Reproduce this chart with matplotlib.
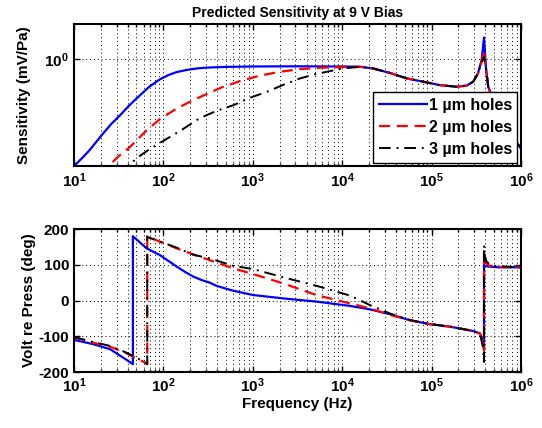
import matplotlib
matplotlib.use('Agg')
import matplotlib.pyplot as plt
from matplotlib.ticker import LogLocator, NullLocator, NullFormatter

plt.rcParams['font.family'] = ['Liberation Sans', 'DejaVu Sans']
plt.rcParams['font.weight'] = 'bold'
plt.rcParams['axes.labelweight'] = 'bold'
plt.rcParams['axes.titleweight'] = 'bold'
plt.rcParams['mathtext.fontset'] = 'custom'
plt.rcParams['mathtext.rm'] = 'Liberation Sans:bold'
plt.rcParams['mathtext.default'] = 'rm'

# magnitude (mV/Pa)
blue_mag_f = [10, 12.5, 15, 20.4, 26, 33, 41, 50, 60, 70, 92, 115, 140, 182, 240, 305, 500,
              1000, 3000, 1e4, 1.58e4, 2.2e4, 3.4e4, 5.3e4, 8.1e4, 1.24e5, 1.9e5, 2.46e5,
              2.92e5, 3.3e5, 3.63e5, 3.86e5, 4.05e5, 4.3e5, 4.7e5, 5.5e5, 6.5e5, 8e5, 9.5e5, 1e6]
blue_mag = [0.12, 0.142, 0.165, 0.221, 0.275, 0.33, 0.395, 0.457, 0.52, 0.58, 0.67, 0.73,
            0.77, 0.805, 0.83, 0.843, 0.855, 0.862, 0.865, 0.862, 0.857, 0.83, 0.76, 0.68,
            0.637, 0.596, 0.577, 0.59, 0.637, 0.75, 0.98, 1.53, 0.85, 0.577, 0.48, 0.36,
            0.28, 0.21, 0.18, 0.17]

red_mag_f = [20, 25.3, 32, 40.6, 52, 65, 92, 141, 200, 256, 305, 450, 719, 1200, 2013, 3370,
             5650, 1e4, 1.58e4, 2.2e4, 3.4e4, 5.3e4, 8.1e4, 1.24e5, 1.9e5, 2.46e5, 2.92e5,
             3.3e5, 3.63e5, 3.86e5, 4.05e5, 4.3e5, 4.7e5, 5.5e5, 6.5e5, 8e5, 9.5e5, 1e6]
red_mag = [0.1, 0.124, 0.147, 0.17, 0.205, 0.244, 0.305, 0.375, 0.43, 0.47, 0.5, 0.57,
           0.645, 0.72, 0.776, 0.818, 0.84, 0.855, 0.857, 0.83, 0.76, 0.68, 0.637, 0.596,
           0.577, 0.59, 0.637, 0.75, 0.95, 1.18, 0.85, 0.577, 0.48, 0.36, 0.28, 0.21, 0.18, 0.17]

black_mag_f = [35, 40.6, 50, 68, 91.6, 153, 256, 400, 605, 900, 1430, 2200, 3370, 5000, 6710,
               1.02e4, 1.58e4, 2.2e4, 3.4e4, 5.3e4, 8.1e4, 1.24e5, 1.9e5, 2.46e5, 2.92e5,
               3.3e5, 3.63e5, 3.86e5, 4.05e5, 4.3e5, 4.7e5, 5.5e5, 6.5e5, 8e5, 9.5e5, 1e6]
black_mag = [0.1, 0.12, 0.14, 0.165, 0.19, 0.24, 0.31, 0.36, 0.40, 0.46, 0.521, 0.6, 0.68,
             0.74, 0.776, 0.83, 0.855, 0.83, 0.76, 0.68, 0.637, 0.596, 0.577, 0.59, 0.637,
             0.75, 0.93, 1.05, 0.85, 0.577, 0.48, 0.36, 0.28, 0.21, 0.18, 0.17]

# phase (deg)
blue_ph_f = [10, 16.4, 25.3, 38.8, 45.6, 45.6, 55, 65, 78, 91.6, 115, 141, 175, 216, 270, 330,
             394, 490, 605, 1010, 2190, 5190, 1.22e4, 2.04e4, 3.4e4, 5.7e4, 9.5e4, 1.6e5,
             2.9e5, 3.47e5, 3.75e5, 3.86e5, 3.86e5, 3.95e5, 4.3e5, 5.5e5, 1e6]
blue_ph = [-110, -122, -136, -166, -178, 180, 162, 146, 136, 127, 110, 95, 80, 67, 57, 50,
           41, 34, 27.5, 15.4, 6, -3, -15, -24.6, -38, -55, -66, -73,
           -85, -92, -110, -135, 100, 97, 95, 93, 93]

red_ph_f = [10, 16.4, 25.3, 38.8, 59.6, 66, 66, 91.6, 141, 216, 330, 605, 1010, 2190,
            5190, 9440, 1.22e4, 2.04e4, 3.4e4, 5.7e4, 9.5e4, 1.6e5, 2.9e5, 3.47e5,
            3.75e5, 3.86e5, 3.86e5, 3.95e5, 4.3e5, 5.5e5, 1e6]
red_ph = [-103, -118, -129, -148, -171, -178, 180, 164.5, 146, 129, 113, 90, 74, 48,
          15, -1, -8, -22, -40, -55, -66, -73, -85, -92,
          -115, -140, 132, 110, 98, 94, 93]

black_ph_f = [10, 16.4, 25.3, 38.8, 59.6, 66, 66, 91.6, 141, 216, 330, 605, 1010, 2190,
              5190, 9440, 1.22e4, 2.04e4, 3.4e4, 5.7e4, 9.5e4, 1.6e5, 2.9e5, 3.47e5,
              3.75e5, 3.86e5, 3.86e5, 3.9e5, 4.1e5, 4.5e5, 5.5e5, 1e6]
black_ph = [-102, -116, -127, -146, -170, -178, 178, 165, 148, 128, 118, 97, 88, 65,
            41, 22, 14, -12.6, -36, -54.5, -65.7, -73, -85, -92,
            -130, -172, 155, 130, 110, 100, 96, 93]

labels = ['1 \u00b5m holes', '2 \u00b5m holes', '3 \u00b5m holes']
phase_ticks = [-200, -100, 0, 100, 200]


def style_axes(ax):
    ax.set_xscale('log')
    ax.set_xlim(10, 1e6)
    ax.xaxis.set_major_locator(LogLocator(base=10, numticks=10))
    ax.xaxis.set_minor_locator(LogLocator(base=10, subs=range(2, 10), numticks=20))
    ax.xaxis.set_minor_formatter(NullFormatter())
    grid_kw = dict(linestyle=(0, (1, 3)), color='k', linewidth=0.7)
    ax.grid(True, which='major', axis='both', **grid_kw)
    ax.grid(True, which='minor', axis='x', **grid_kw)
    ax.tick_params(which='both', direction='in', top=True, right=True,
                   labelsize=11, width=1)
    ax.tick_params(which='major', length=4)
    ax.tick_params(which='minor', length=2)
    for sp in ax.spines.values():
        sp.set_linewidth(1.5)


def main():
    fig = plt.figure(figsize=(5.42, 4.28), dpi=100)
    ax1 = fig.add_axes([0.1365, 0.612, 0.8247, 0.332])
    ax2 = fig.add_axes([0.1365, 0.1308, 0.8247, 0.334])

    # Top: sensitivity
    ax1.plot(blue_mag_f, blue_mag, color='#0000ff', lw=1.6, label=labels[0])
    ax1.plot(red_mag_f, red_mag, color='#ff0000', lw=1.6, linestyle=(0, (5, 3)), label=labels[1])
    ax1.plot(black_mag_f, black_mag, color='k', lw=1.4, linestyle=(0, (6, 3, 1, 3)), label=labels[2])
    style_axes(ax1)
    ax1.set_yscale('log')
    ax1.set_ylim(0.12, 2.0)
    ax1.yaxis.set_major_locator(LogLocator(base=10, numticks=10))
    ax1.yaxis.set_minor_locator(NullLocator())
    ax1.set_ylabel('Sensitivity (mV/Pa)', fontsize=11, labelpad=10)
    ax1.set_title('Predicted Sensitivity at 9 V Bias', fontsize=10, pad=5)
    leg = ax1.legend(loc='lower right', bbox_to_anchor=(0.992, 0.025), borderaxespad=0,
                     fancybox=False, edgecolor='k', framealpha=1, fontsize=11.5,
                     handlelength=3.0, handletextpad=0.1, labelspacing=0.45,
                     borderpad=0.35)
    leg.get_frame().set_linewidth(1.0)

    # Bottom: phase
    ax2.plot(blue_ph_f, blue_ph, color='#0000ff', lw=1.6)
    ax2.plot(red_ph_f, red_ph, color='#ff0000', lw=1.6, linestyle=(0, (5, 3)))
    ax2.plot(black_ph_f, black_ph, color='k', lw=1.4, linestyle=(0, (6, 3, 1, 3)))
    style_axes(ax2)
    ax2.set_ylim(-200, 200)
    ax2.set_yticks(phase_ticks)
    ax2.set_yticklabels([str(t) for t in phase_ticks])
    ax2.set_ylabel('Volt re Press (deg)', fontsize=11, labelpad=2)
    ax2.set_xlabel('Frequency (Hz)', fontsize=11, labelpad=1)

    fig.savefig('out.png', dpi=100)


if __name__ == '__main__':
    main()
